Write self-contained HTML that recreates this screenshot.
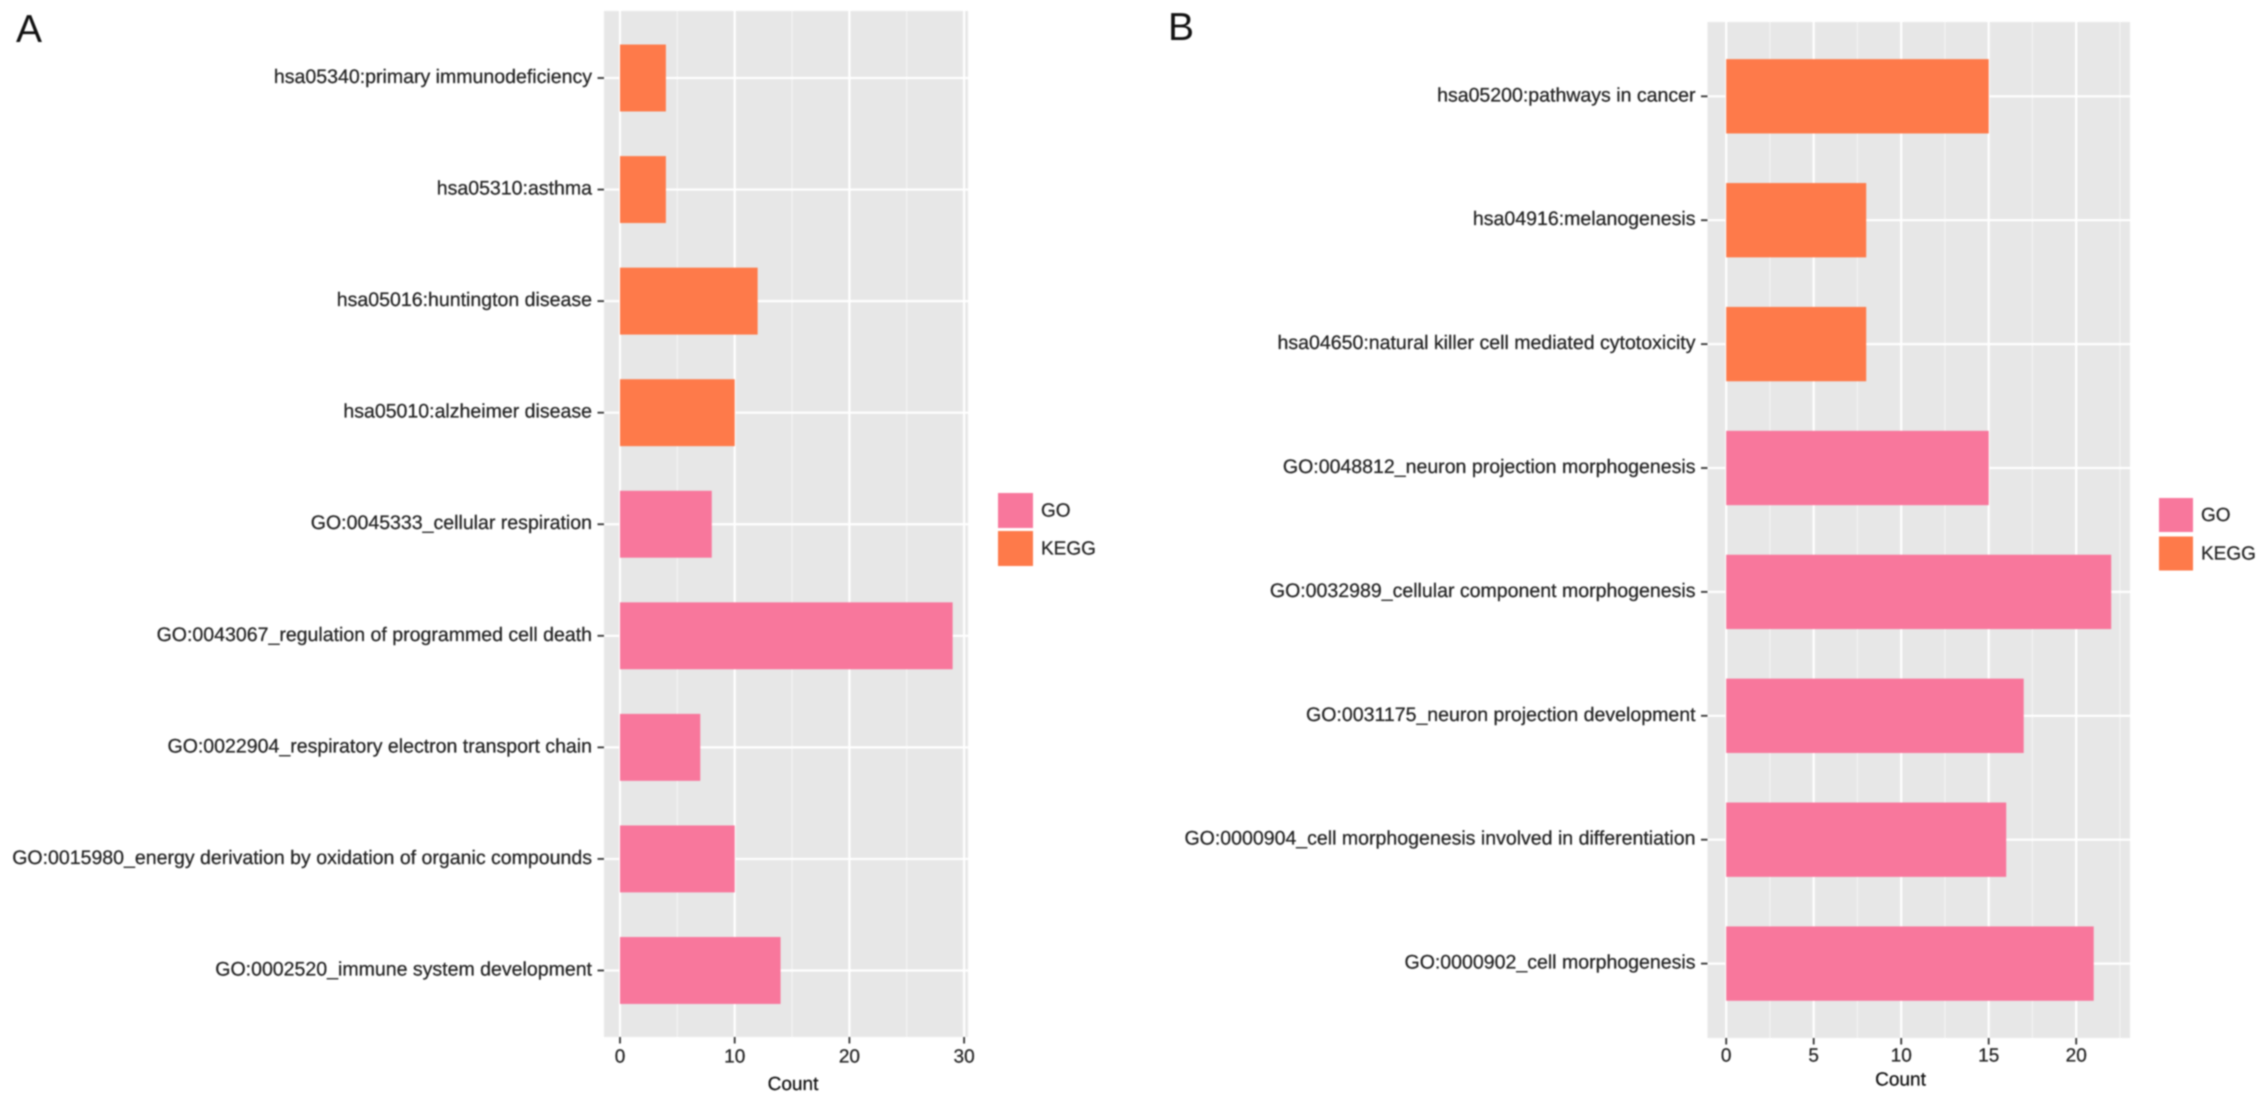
<!DOCTYPE html>
<html>
<head>
<meta charset="utf-8">
<title>GO and KEGG enrichment bar charts</title>
<style>
html,body{margin:0;padding:0;background:#fff;width:2268px;height:1103px;overflow:hidden}
svg{display:block;filter:blur(0.8px)}
text{font-family:"Liberation Sans",sans-serif;text-rendering:geometricPrecision}
</style>
</head>
<body>
<svg id="figure" xmlns="http://www.w3.org/2000/svg" width="2268" height="1103" viewBox="0 0 2268 1103">
  <rect x="0" y="0" width="2268" height="1103" fill="#fff"/>
  <text x="16" y="42" font-size="39" fill="#111">A</text>
  <text x="1168" y="40" font-size="39" fill="#111">B</text>
</svg>
<script>
const categoriesA = [
  "hsa05340:primary immunodeficiency",
  "hsa05310:asthma",
  "hsa05016:huntington disease",
  "hsa05010:alzheimer disease",
  "GO:0045333_cellular respiration",
  "GO:0043067_regulation of programmed cell death",
  "GO:0022904_respiratory electron transport chain",
  "GO:0015980_energy derivation by oxidation of organic compounds",
  "GO:0002520_immune system development"
];
const countsA = [4, 4, 12, 10, 8, 29, 7, 10, 14];
const groupsA = ["KEGG", "KEGG", "KEGG", "KEGG", "GO", "GO", "GO", "GO", "GO"];
const majorTicksA = [0, 10, 20, 30];
const minorTicksA = [5, 15, 25];

const categoriesB = [
  "hsa05200:pathways in cancer",
  "hsa04916:melanogenesis",
  "hsa04650:natural killer cell mediated cytotoxicity",
  "GO:0048812_neuron projection morphogenesis",
  "GO:0032989_cellular component morphogenesis",
  "GO:0031175_neuron projection development",
  "GO:0000904_cell morphogenesis involved in differentiation",
  "GO:0000902_cell morphogenesis"
];
const countsB = [15, 8, 8, 15, 22, 17, 16, 21];
const groupsB = ["KEGG", "KEGG", "KEGG", "GO", "GO", "GO", "GO", "GO"];
const majorTicksB = [0, 5, 10, 15, 20];
const minorTicksB = [2.5, 7.5, 12.5, 17.5, 22.5];

const legendGroups = ["GO", "KEGG"];
const groupColor = { GO: "#F8779C", KEGG: "#FE7A4A" };

const NS = "http://www.w3.org/2000/svg";
const svg = document.getElementById("figure");

function add(parent, tag, attrs, text) {
  const el = document.createElementNS(NS, tag);
  for (const k in attrs) el.setAttribute(k, attrs[k]);
  if (text !== undefined) el.textContent = text;
  parent.appendChild(el);
  return el;
}

function drawPanel(id, frame, categories, counts, groups, majorTicks, minorTicks) {
  const g = add(svg, "g", {});
  
  

  const xScale = v => frame.x0 + v * frame.unit;
  const yScale = i => frame.firstY + i * frame.step;

  const bg = add(g, "rect", { x: frame.left, y: frame.top, width: frame.right - frame.left, height: frame.bottom - frame.top, fill: "#E7E7E7" });
  
  

  minorTicks.forEach(t => {
    const l = add(g, "line", { x1: xScale(t), x2: xScale(t), y1: frame.top, y2: frame.bottom, stroke: "#F4F4F4", "stroke-width": 1.2 });
    
    
  });
  majorTicks.forEach(t => {
    const l = add(g, "line", { x1: xScale(t), x2: xScale(t), y1: frame.top, y2: frame.bottom, stroke: "#fff", "stroke-width": 2.2 });
    
    
  });
  categories.forEach((c, i) => {
    const l = add(g, "line", { x1: frame.left, x2: frame.right, y1: yScale(i), y2: yScale(i), stroke: "#fff", "stroke-width": 2.2 });
    
    
  });

  categories.forEach((c, i) => {
    const h = frame.step * 0.6;
    const bar = add(g, "rect", { x: xScale(0), y: yScale(i) - h / 2, width: xScale(counts[i]) - xScale(0), height: h, fill: groups[i] === "GO" ? groupColor.GO : groupColor.KEGG });
    
    

    const tick = add(g, "line", { x1: frame.left - 6.5, x2: frame.left, y1: yScale(i), y2: yScale(i), stroke: "#333", "stroke-width": 1.8 });
    
    

    const label = add(g, "text", { x: frame.left - 12, y: yScale(i) - 1, "text-anchor": "end", "dominant-baseline": "central", "font-size": frame.labelSize, fill: "#222", stroke: "#333", "stroke-width": 0.3 }, c);
    
    
  });

  majorTicks.forEach(t => {
    const tick = add(g, "line", { x1: xScale(t), x2: xScale(t), y1: frame.bottom, y2: frame.bottom + 6.5, stroke: "#333", "stroke-width": 1.8 });
    
    

    const label = add(g, "text", { x: xScale(t), y: frame.tickLabelY, "text-anchor": "middle", "dominant-baseline": "central", "font-size": frame.fontSize, fill: "#222", stroke: "#333", "stroke-width": 0.3 }, String(t));
    
    
  });

  const title = add(g, "text", { x: frame.titleX, y: frame.titleY, "text-anchor": "middle", "dominant-baseline": "central", "font-size": frame.fontSize, fill: "#111", stroke: "#222", "stroke-width": 0.3 }, "Count");
  
  

  legendGroups.forEach((name, i) => {
    const key = add(g, "rect", { x: frame.legendX, y: frame.legendY + i * frame.legendStep, width: frame.legendSize, height: frame.legendSize, fill: groupColor[name] });
    
    

    const text = add(g, "text", { x: frame.legendX + frame.legendSize + 8, y: frame.legendY + i * frame.legendStep + frame.legendSize / 2 + 0.5, "dominant-baseline": "central", "font-size": frame.fontSize, fill: "#222", stroke: "#333", "stroke-width": 0.3 }, name);
    
    
  });
}

drawPanel("panel-a",
  { left: 604, right: 968, top: 11, bottom: 1037, x0: 620, unit: 11.47, firstY: 78, step: 111.56,
    fontSize: 19, labelSize: 19.55, tickLabelY: 1057, titleX: 793, titleY: 1084.5,
    legendX: 998, legendY: 493, legendSize: 35, legendStep: 38 },
  categoriesA, countsA, groupsA, majorTicksA, minorTicksA);

drawPanel("panel-b",
  { left: 1707.5, right: 2130, top: 22, bottom: 1038, x0: 1726.2, unit: 17.5, firstY: 96.3, step: 123.9,
    fontSize: 19, labelSize: 19.55, tickLabelY: 1056, titleX: 1900.5, titleY: 1080,
    legendX: 2159, legendY: 498, legendSize: 34, legendStep: 38.5 },
  categoriesB, countsB, groupsB, majorTicksB, minorTicksB);
</script>
</body>
</html>
